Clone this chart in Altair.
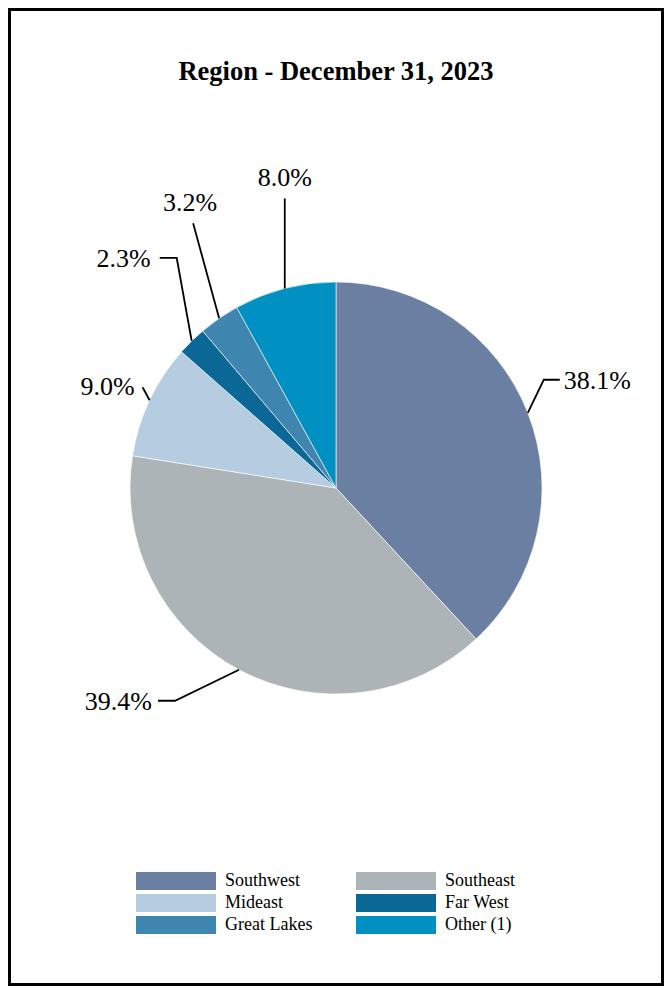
import math
import altair as alt
import pandas as pd

# ---- data ----
categories = ["Southwest", "Southeast", "Mideast", "Far West", "Great Lakes", "Other (1)"]
values = [38.1, 39.4, 9.0, 2.3, 3.2, 8.0]

# ---- styles ----
colors = ["#6B7FA3", "#ADB4B8", "#B5CCE1", "#0A6796", "#3E86AF", "#0090C1"]
FONT = "Liberation Serif"

# legend is filled column by column: order entries so it reads row by row
legend_order = [0, 2, 4, 1, 3, 5]
legend_domain = [categories[i] for i in legend_order]
legend_range = [colors[i] for i in legend_order]

W, H = 656, 978
CX, CY, R = 328, 480, 206

# leader-line layout per slice: elbow dx, elbow dy, tail dx, label dx, label dy, align
leader = {
    "Southwest": (16, -33, 16, 4, 1, "left"),
    "Southeast": (-64, 31, -17, -6, 1, "right"),
    "Mideast": (-7, -13, 0, -8, 0, "right"),
    "Far West": (-15, -83, -17, -9, 1, "right"),
    "Great Lakes": (-26, -95, 0, -3, -20, "center"),
    "Other (1)": (0, -90, 0, 0, -20, "center"),
}

total = sum(values)
arc_rows, line_rows, label_rows = [], [], []
cum = 0.0
for i, (c, v) in enumerate(zip(categories, values)):
    mid = (cum + v / 2) / total * 2 * math.pi
    cum += v
    ex, ey = CX + R * math.sin(mid), CY - R * math.cos(mid)
    edx, edy, tdx, ldx, ldy, al = leader[c]
    bx, by = ex + edx, ey + edy
    pts = [(ex, ey), (bx, by)]
    if tdx:
        pts.append((bx + tdx, by))
    for k, (px, py) in enumerate(pts):
        line_rows.append({"cat": c, "ord": k, "px": px, "py": py})
    lx, ly = pts[-1]
    label_rows.append({"cat": c, "text": f"{v:.1f}%", "px": lx + ldx, "py": ly + ldy, "align": al})
    arc_rows.append({"cat": c, "value": v, "idx": i})

arcs_df = pd.DataFrame(arc_rows)
lines_df = pd.DataFrame(line_rows)
labels_df = pd.DataFrame(label_rows)

xs = alt.Scale(domain=[0, W], range=[0, W], nice=False, zero=False)
ys = alt.Scale(domain=[0, H], range=[0, H], nice=False, zero=False)

arcs = alt.Chart(arcs_df).mark_arc(outerRadius=R, stroke="white", strokeWidth=0.6).encode(
    theta=alt.Theta("value:Q", stack=True),
    order=alt.Order("idx:Q"),
    color=alt.Color(
        "cat:N",
        scale=alt.Scale(domain=legend_domain, range=legend_range),
        legend=alt.Legend(
            title=None,
            orient="none",
            legendX=128,
            legendY=864,
            columns=2,
            columnPadding=43,
            rowPadding=4,
            padding=0,
            symbolType="M-1,-1L7.889,-1L7.889,1L-1,1Z",
            symbolSize=324,
            symbolStrokeWidth=0,
            symbolOpacity=1,
            labelOffset=71,
            labelFont=FONT,
            labelFontSize=18,
            labelColor="black",
            labelLimit=300,
        ),
    ),
    x=alt.value(CX),
    y=alt.value(CY),
)

lines = alt.Chart(lines_df).mark_line(color="black", strokeWidth=1.8).encode(
    x=alt.X("px:Q", scale=xs, axis=None),
    y=alt.Y("py:Q", scale=ys, axis=None),
    detail="cat:N",
    order="ord:Q",
)

def label_layer(al):
    return alt.Chart(labels_df).transform_filter(alt.datum.align == al).mark_text(
        font=FONT, fontSize=26, color="black", align=al, baseline="middle"
    ).encode(
        x=alt.X("px:Q", scale=xs, axis=None),
        y=alt.Y("py:Q", scale=ys, axis=None),
        text="text:N",
    )

chart = alt.layer(
    arcs, lines, label_layer("left"), label_layer("right"), label_layer("center")
).properties(
    width=W,
    height=H,
    padding=0,
    autosize="none",
    background="white",
    title=alt.TitleParams(
        text="Region - December 31, 2023",
        font=FONT,
        fontSize=26.5,
        fontWeight="bold",
        color="black",
        anchor="middle",
        frame="group",
        baseline="alphabetic",
        offset=0,
        dy=98,
    ),
).configure_view(stroke="black", strokeWidth=6)

chart.save("out.html", embed_options={"renderer": "svg", "actions": False})
